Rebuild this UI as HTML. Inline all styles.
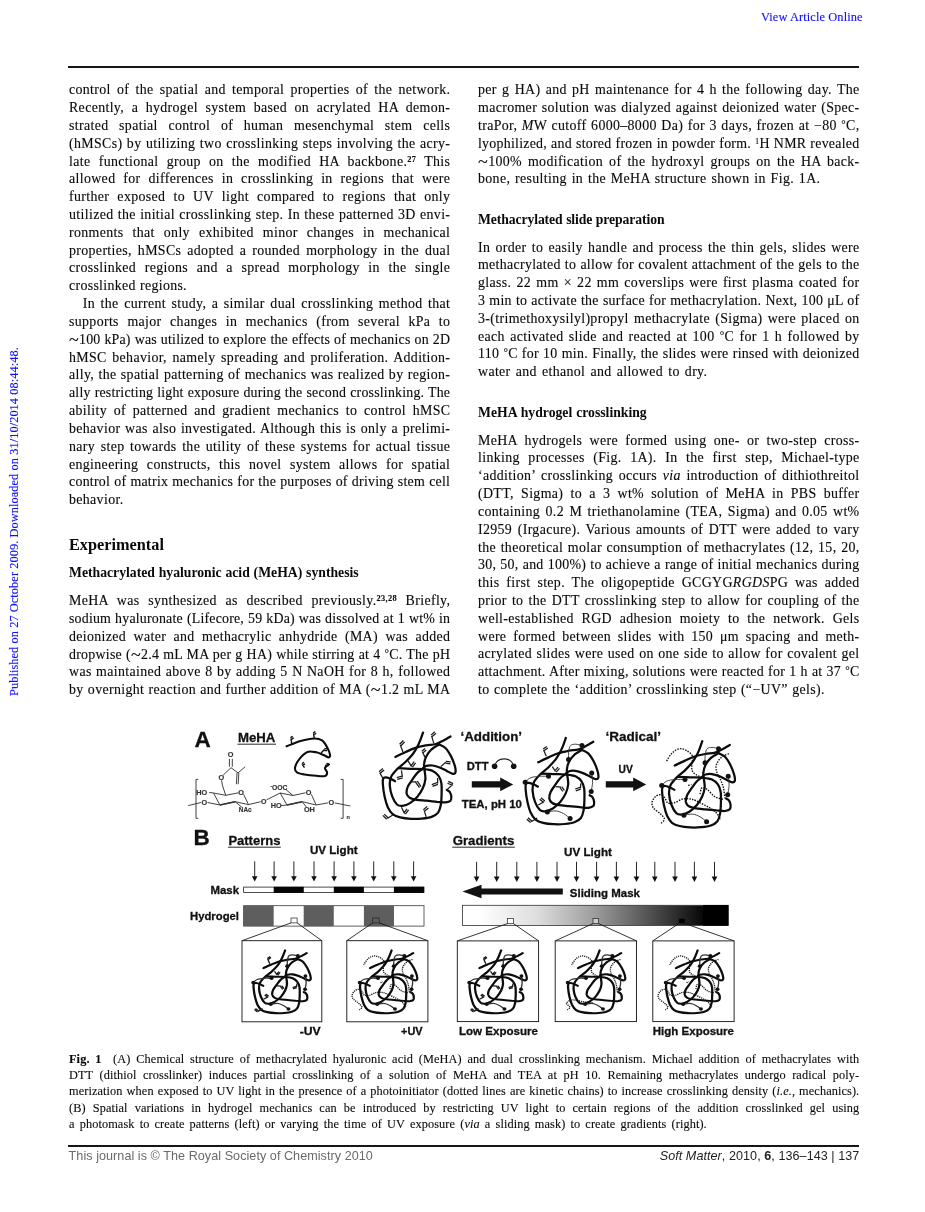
<!DOCTYPE html>
<html><head><meta charset="utf-8"><title>Soft Matter page 137</title>
<style>
html,body{margin:0;padding:0;background:#fff}
body{width:925px;height:1212px;position:relative;overflow:hidden;will-change:transform;font-family:"Liberation Serif",serif;color:#0a0a0a}
.l{position:absolute;white-space:nowrap;text-align:justify;text-align-last:justify;transform-origin:0 0;line-height:16px;height:16px;font-family:"Liberation Serif",serif}
.t{font-size:13.9px;-webkit-text-stroke:0.12px #0a0a0a}
.h1{font-size:16.3px;font-weight:bold;line-height:20px;height:20px}
.h2{font-size:13.7px;font-weight:bold}
.c{font-size:12.3px;-webkit-text-stroke:0.1px #0a0a0a}
.sp{font-size:0.6em;position:relative;top:-0.5em}.dg{font-size:0.8em;position:relative;top:-0.16em}
.sp.b{font-weight:bold}
.gap{display:inline-block;width:11.5px}
.tl{font-size:1.3em;line-height:0;position:relative;top:0.12em}
.rule{position:absolute;background:#161616;left:68.3px;width:790.9px;height:1.5px}
.vao{position:absolute;left:761px;top:10px;font-size:12.4px;color:#1010ff;-webkit-text-stroke:0.12px #1010ff;white-space:nowrap;line-height:14px;letter-spacing:0.1px}
.side{position:absolute;left:5.5px;top:695.5px;font-size:12.33px;color:#1010ff;-webkit-text-stroke:0.12px #1010ff;white-space:nowrap;line-height:16px;height:16px;transform-origin:0 0;transform:rotate(-90deg);letter-spacing:0.08px}
.fl{position:absolute;left:68.6px;top:1149.3px;font-family:"Liberation Sans",sans-serif;font-size:12.6px;color:#6a6a6a;white-space:nowrap;line-height:14px;letter-spacing:0.05px}
.fr{position:absolute;right:65.6px;top:1149.3px;font-family:"Liberation Sans",sans-serif;font-size:12.6px;color:#222;white-space:nowrap;line-height:14px;text-align:right;letter-spacing:0.05px}
svg{position:absolute;left:0;top:0}
</style></head><body>
<div class="vao">View Article Online</div>
<div class="side">Published on 27 October 2009. Downloaded on 31/10/2014 08:44:48.</div>
<div class="rule" style="top:66.2px"></div>
<div class="l t" style="left:69.0px;top:81.75px;width:381.35px;letter-spacing:0.350px">control of the spatial and temporal properties of the network.</div>
<div class="l t" style="left:69.0px;top:99.75px;width:381.35px;letter-spacing:0.350px">Recently, a hydrogel system based on acrylated HA demon-</div>
<div class="l t" style="left:69.0px;top:117.75px;width:381.35px;letter-spacing:0.350px">strated spatial control of human mesenchymal stem cells</div>
<div class="l t" style="left:69.0px;top:135.75px;width:381.35px;letter-spacing:0.350px">(hMSCs) by utilizing two crosslinking steps involving the acry-</div>
<div class="l t" style="left:69.0px;top:153.75px;width:381.35px;letter-spacing:0.350px">late functional group on the modified HA backbone.<span class="sp b">27</span> This</div>
<div class="l t" style="left:69.0px;top:170.75px;width:381.35px;letter-spacing:0.350px">allowed for differences in crosslinking in regions that were</div>
<div class="l t" style="left:69.0px;top:188.75px;width:381.35px;letter-spacing:0.350px">further exposed to UV light compared to regions that only</div>
<div class="l t" style="left:69.0px;top:206.75px;width:381.35px;letter-spacing:0.350px">utilized the initial crosslinking step. In these patterned 3D envi-</div>
<div class="l t" style="left:69.0px;top:224.75px;width:381.35px;letter-spacing:0.350px">ronments that only exhibited minor changes in mechanical</div>
<div class="l t" style="left:69.0px;top:242.75px;width:381.35px;letter-spacing:0.350px">properties, hMSCs adopted a rounded morphology in the dual</div>
<div class="l t" style="left:69.0px;top:259.75px;width:381.35px;letter-spacing:0.350px">crosslinked regions and a spread morphology in the single</div>
<div class="l t" style="left:69.0px;top:277.75px;width:117.91px;letter-spacing:0.310px">crosslinked regions.</div>
<div class="l t" style="left:82.8px;top:295.75px;width:367.55px;letter-spacing:0.350px">In the current study, a similar dual crosslinking method that</div>
<div class="l t" style="left:69.0px;top:313.75px;width:381.35px;letter-spacing:0.350px">supports major changes in mechanics (from several kPa to</div>
<div class="l t" style="left:69.0px;top:331.75px;width:381.20px;letter-spacing:0.202px"><span class="tl">~</span>100 kPa) was utilized to explore the effects of mechanics on 2D</div>
<div class="l t" style="left:69.0px;top:349.75px;width:381.35px;letter-spacing:0.350px">hMSC behavior, namely spreading and proliferation. Addition-</div>
<div class="l t" style="left:69.0px;top:366.75px;width:381.35px;letter-spacing:0.350px">ally, the spatial patterning of mechanics was realized by region-</div>
<div class="l t" style="left:69.0px;top:384.75px;width:381.20px;letter-spacing:0.202px">ally restricting light exposure during the second crosslinking. The</div>
<div class="l t" style="left:69.0px;top:402.75px;width:381.35px;letter-spacing:0.350px">ability of patterned and gradient mechanics to control hMSC</div>
<div class="l t" style="left:69.0px;top:420.75px;width:381.35px;letter-spacing:0.350px">behavior was also investigated. Although this is only a prelimi-</div>
<div class="l t" style="left:69.0px;top:438.75px;width:381.35px;letter-spacing:0.350px">nary step towards the utility of these systems for actual tissue</div>
<div class="l t" style="left:69.0px;top:456.75px;width:381.35px;letter-spacing:0.350px">engineering constructs, this novel system allows for spatial</div>
<div class="l t" style="left:69.0px;top:473.75px;width:381.26px;letter-spacing:0.261px">control of matrix mechanics for the purposes of driving stem cell</div>
<div class="l t" style="left:69.0px;top:491.75px;width:55.35px;letter-spacing:0.350px">behavior.</div>
<div class="l t" style="left:69.0px;top:592.75px;width:381.35px;letter-spacing:0.350px">MeHA was synthesized as described previously.<span class="sp b">23,28</span> Briefly,</div>
<div class="l t" style="left:69.0px;top:610.75px;width:381.20px;letter-spacing:0.201px">sodium hyaluronate (Lifecore, 59 kDa) was dissolved at 1 wt% in</div>
<div class="l t" style="left:69.0px;top:628.75px;width:381.35px;letter-spacing:0.350px">deionized water and methacrylic anhydride (MA) was added</div>
<div class="l t" style="left:69.0px;top:646.75px;width:381.26px;letter-spacing:0.262px">dropwise (<span class="tl">~</span>2.4 mL MA per g HA) while stirring at 4 <span class="dg">°</span>C. The pH</div>
<div class="l t" style="left:69.0px;top:663.75px;width:381.35px;letter-spacing:0.350px">was maintained above 8 by adding 5 N NaOH for 8 h, followed</div>
<div class="l t" style="left:69.0px;top:681.75px;width:381.35px;letter-spacing:0.350px">by overnight reaction and further addition of MA (<span class="tl">~</span>1.2 mL MA</div>
<div class="l t" style="left:478.0px;top:81.75px;width:381.55px;letter-spacing:0.350px">per g HA) and pH maintenance for 4 h the following day. The</div>
<div class="l t" style="left:478.0px;top:99.75px;width:381.55px;letter-spacing:0.350px">macromer solution was dialyzed against deionized water (Spec-</div>
<div class="l t" style="left:478.0px;top:117.75px;width:381.55px;letter-spacing:0.350px">traPor, <i>M</i>W cutoff 6000–8000 Da) for 3 days, frozen at −80 <span class="dg">°</span>C,</div>
<div class="l t" style="left:478.0px;top:135.75px;width:381.46px;letter-spacing:0.257px">lyophilized, and stored frozen in powder form. <span class="sp">1</span>H NMR revealed</div>
<div class="l t" style="left:478.0px;top:153.75px;width:381.55px;letter-spacing:0.350px"><span class="tl">~</span>100% modification of the hydroxyl groups on the HA back-</div>
<div class="l t" style="left:478.0px;top:170.75px;width:342.35px;letter-spacing:0.350px">bone, resulting in the MeHA structure shown in Fig. 1A.</div>
<div class="l t" style="left:478.0px;top:239.75px;width:381.55px;letter-spacing:0.350px">In order to easily handle and process the thin gels, slides were</div>
<div class="l t" style="left:478.0px;top:256.75px;width:381.51px;letter-spacing:0.312px">methacrylated to allow for covalent attachment of the gels to the</div>
<div class="l t" style="left:478.0px;top:274.75px;width:381.55px;letter-spacing:0.350px">glass. 22 mm × 22 mm coverslips were first plasma coated for</div>
<div class="l t" style="left:478.0px;top:292.75px;width:381.49px;letter-spacing:0.289px">3 min to activate the surface for methacrylation. Next, 100 μL of</div>
<div class="l t" style="left:478.0px;top:310.75px;width:381.55px;letter-spacing:0.350px">3-(trimethoxysilyl)propyl methacrylate (Sigma) were placed on</div>
<div class="l t" style="left:478.0px;top:328.75px;width:381.55px;letter-spacing:0.350px">each activated slide and reacted at 100 <span class="dg">°</span>C for 1 h followed by</div>
<div class="l t" style="left:478.0px;top:345.75px;width:381.51px;letter-spacing:0.313px">110 <span class="dg">°</span>C for 10 min. Finally, the slides were rinsed with deionized</div>
<div class="l t" style="left:478.0px;top:363.75px;width:229.35px;letter-spacing:0.350px">water and ethanol and allowed to dry.</div>
<div class="l t" style="left:478.0px;top:432.75px;width:381.55px;letter-spacing:0.350px">MeHA hydrogels were formed using one- or two-step cross-</div>
<div class="l t" style="left:478.0px;top:449.75px;width:381.55px;letter-spacing:0.350px">linking processes (Fig. 1A). In the first step, Michael-type</div>
<div class="l t" style="left:478.0px;top:467.75px;width:381.55px;letter-spacing:0.350px">‘addition’ crosslinking occurs <i>via</i> introduction of dithiothreitol</div>
<div class="l t" style="left:478.0px;top:485.75px;width:381.55px;letter-spacing:0.350px">(DTT, Sigma) to a 3 wt% solution of MeHA in PBS buffer</div>
<div class="l t" style="left:478.0px;top:503.75px;width:381.55px;letter-spacing:0.350px">containing 0.2 M triethanolamine (TEA, Sigma) and 0.05 wt%</div>
<div class="l t" style="left:478.0px;top:521.75px;width:381.55px;letter-spacing:0.350px">I2959 (Irgacure). Various amounts of DTT were added to vary</div>
<div class="l t" style="left:478.0px;top:539.75px;width:381.55px;letter-spacing:0.350px">the theoretical molar consumption of methacrylates (12, 15, 20,</div>
<div class="l t" style="left:478.0px;top:556.75px;width:381.49px;letter-spacing:0.294px">30, 50, and 100%) to achieve a range of initial mechanics during</div>
<div class="l t" style="left:478.0px;top:574.75px;width:381.55px;letter-spacing:0.350px">this first step. The oligopeptide GCGYG<i>RGDS</i>PG was added</div>
<div class="l t" style="left:478.0px;top:592.75px;width:381.55px;letter-spacing:0.350px">prior to the DTT crosslinking step to allow for coupling of the</div>
<div class="l t" style="left:478.0px;top:610.75px;width:381.55px;letter-spacing:0.350px">well-established RGD adhesion moiety to the network. Gels</div>
<div class="l t" style="left:478.0px;top:628.75px;width:381.55px;letter-spacing:0.350px">were formed between slides with 150 μm spacing and meth-</div>
<div class="l t" style="left:478.0px;top:645.75px;width:381.55px;letter-spacing:0.350px">acrylated slides were used on one side to allow for covalent gel</div>
<div class="l t" style="left:478.0px;top:663.75px;width:381.49px;letter-spacing:0.291px">attachment. After mixing, solutions were reacted for 1 h at 37 <span class="dg">°</span>C</div>
<div class="l t" style="left:478.0px;top:681.75px;width:346.85px;letter-spacing:0.350px">to complete the ‘addition’ crosslinking step (“−UV” gels).</div>
<div class="l h1" style="left:69.0px;top:534.75px;width:95.00px;letter-spacing:0.000px">Experimental</div>
<div class="l h2" style="left:69.0px;top:564.75px;width:289.60px;letter-spacing:0.000px">Methacrylated hyaluronic acid (MeHA) synthesis</div>
<div class="l h2" style="left:478.0px;top:211.75px;width:186.40px;letter-spacing:-0.103px">Methacrylated slide preparation</div>
<div class="l h2" style="left:478.0px;top:404.75px;width:168.70px;letter-spacing:0.000px">MeHA hydrogel crosslinking</div>
<div class="l c" style="left:69.0px;top:1051.25px;width:790.30px;letter-spacing:0.100px"><b>Fig. 1</b><span class="gap"></span>(A) Chemical structure of methacrylated hyaluronic acid (MeHA) and dual crosslinking mechanism. Michael addition of methacrylates with</div>
<div class="l c" style="left:69.0px;top:1067.25px;width:790.30px;letter-spacing:0.100px">DTT (dithiol crosslinker) induces partial crosslinking of a solution of MeHA and TEA at pH 10. Remaining methacrylates undergo radical poly-</div>
<div class="l c" style="left:69.0px;top:1083.25px;width:790.30px;letter-spacing:0.100px">merization when exposed to UV light in the presence of a photoinitiator (dotted lines are kinetic chains) to increase crosslinking density (<i>i.e.</i>, mechanics).</div>
<div class="l c" style="left:69.0px;top:1100.25px;width:790.30px;letter-spacing:0.100px">(B) Spatial variations in hydrogel mechanics can be introduced by restricting UV light to certain regions of the addition crosslinked gel using</div>
<div class="l c" style="left:69.0px;top:1116.25px;width:637.80px;letter-spacing:0.100px">a photomask to create patterns (left) or varying the time of UV exposure (<i>via</i> a sliding mask) to create gradients (right).</div>
<svg width="925" height="1212" viewBox="0 0 925 1212" font-family="'Liberation Sans',sans-serif" font-weight="bold" fill="#111" style="filter:blur(0.5px)">
<style>svg text{stroke:#111;stroke-width:0.3px}svg text.ch{stroke:#333;stroke-width:0.15px}</style>
<defs><g id="nb" fill="none" stroke="#0c0c0c" style="stroke-width:var(--sw,2.25px)" stroke-linecap="round"><path d="M395.4,756.9 C397.1,756.1 402.3,753.5 405.7,752 C409,750.5 412,749 415.4,747.9 C418.8,746.8 422.8,746 426.2,745.3 C429.6,744.7 433.1,744.9 435.9,744 C438.8,743.2 441.1,741.6 443.5,740.4 C445.9,739.1 449.4,737 450.5,736.4"/><path d="M423,732.6 C422.5,734 421,738.6 419.9,741.2 C418.9,743.8 417.7,746.1 416.5,748.2 C415.3,750.4 414.5,751.9 412.7,754.2 C410.9,756.4 408.3,759.2 405.7,761.8 C403.1,764.3 399.5,766.8 397,769.3 C394.6,771.8 392.3,774.2 391.1,776.9 C389.9,779.6 389.6,782.3 389.8,785.5 C390,788.8 391,793.2 392.2,796.4 C393.4,799.5 395.3,802.9 397,804.5 C398.7,806 400.3,806.1 402.4,805.9 C404.6,805.6 407.5,804.6 410,803.1 C412.5,801.5 415.4,798.9 417.6,796.4 C419.7,793.8 421.7,790.6 423,787.7 C424.3,784.8 425.1,781.9 425.4,779.1 C425.6,776.2 424.8,772.9 424.6,770.4 C424.4,767.9 423.8,766.3 424.1,763.9 C424.3,761.6 425,758.8 426.2,756.4 C427.5,753.9 429.5,751.3 431.6,749.3 C433.8,747.3 437.9,745.3 439.2,744.5"/><path d="M439.2,744.5 C440.3,745.1 443.7,746.3 445.7,748.2 C447.7,750.2 449.5,753.4 451.1,756.4 C452.6,759.3 454.1,763.4 454.9,766.1 C455.6,768.8 455.9,771.3 455.4,772.6 C455,773.8 453.6,773.9 452.2,773.6 C450.7,773.4 448.7,771.9 446.8,770.9 C444.8,770 442.6,768.6 440.3,767.7 C437.9,766.8 435,765.8 432.7,765.5 C430.4,765.2 427.8,765.4 426.2,765.9 C424.6,766.3 423.5,767.8 423,768.2"/><path d="M398.6,768.2 C400.7,768.3 407,768.6 411.1,768.8 C415.1,768.9 419.4,768.7 423,769.1 C426.6,769.5 430.1,769.8 432.7,770.9 C435.3,772.1 437.2,773.7 438.6,775.8 C440.1,777.9 440.9,780.3 441.4,783.4 C441.8,786.4 441.7,790.6 441.6,794.2 C441.5,797.8 441.4,801.9 440.8,805 C440.2,808.1 439.6,810.6 438.1,812.6 C436.6,814.5 434.3,815.9 431.6,816.9 C428.9,817.9 425.3,818.3 421.9,818.6 C418.5,818.9 414.7,819 411.1,818.8 C407.5,818.6 403.3,818.2 400.3,817.4 C397.2,816.7 394.8,815.9 392.7,814.2 C390.6,812.5 389.2,810.1 387.8,807.2 C386.5,804.2 385.4,800 384.6,796.4 C383.8,792.7 383.2,788.5 383,785.5 C382.7,782.6 382.6,779.9 383.2,778.5 C383.7,777.2 384.9,777.3 386.2,777.4 C387.5,777.5 389.6,778.4 391.1,779.1 C392.6,779.7 394.4,780.9 395.1,781.2"/><path d="M423.5,768.2 C422.5,769 419.4,770.8 417.6,772.6 C415.8,774.4 414.3,776.7 412.7,779.1 C411.1,781.4 408.9,784.3 407.8,786.6 C406.8,789 406.3,791.3 406.5,793.1 C406.8,794.9 407.8,796.5 409.5,797.6 C411.1,798.8 413.7,799.3 416.5,799.8 C419.3,800.3 422.8,800.4 426.2,800.7 C429.6,801 433.8,801.5 437,801.8 C440.3,802 443.4,802.6 445.7,802.4 C447.9,802.2 449.6,801.7 450.5,800.7 C451.5,799.7 451.4,797.8 451.3,796.4 C451.2,794.9 450.5,793.1 449.8,792 C449,790.9 447.3,790.2 446.8,789.9"/></g><g id="nt1" fill="none" stroke="#1a1a1a" style="stroke-width:var(--tw,1.25px)"><path d="M403,752 L400.3,745 M400.9,745.7 L404.7,741.9 M399.6,744.3 L403.4,740.5 M433.8,743.4 L431.6,735.8 M432.2,736.5 L436,733.3 M431,735.1 L434.8,731.8 M425.1,757.4 L422.4,752 M423,752.8 L426.3,750.1 M421.8,751.3 L425.1,748.6 M440.8,766.6 L445.7,762.3 M445.6,763.2 L450.4,763.8 M445.8,761.4 L450.6,761.9 M407.8,760.7 L411.6,766.6 M412.4,767.2 L415.6,762.9 M410.9,766.1 L414.1,761.7 M383,778.5 L379.7,772.6 M380.3,773.3 L384.1,770 M379.1,771.8 L382.9,768.6 M401.4,770.4 L402.4,776.9 M402.2,776 L396.8,777.6 M402.7,777.8 L397.3,779.4 M410,781.8 L416.5,781.8 M415.7,782.3 L419.5,787.7 M417.3,781.2 L421,786.6 M437.6,778 L437.6,783.4 M437.2,782.5 L431.8,784.7 M437.9,784.3 L432.5,786.4 M446.8,789.9 L452.7,784.5 M453.1,783.6 L448.2,781.4 M452.3,785.3 L447.5,783.2 M401.4,807.2 L404.6,813.6 M405.4,814.2 L408.6,809.9 M403.8,813.1 L407.1,808.8 M426.2,816.9 L424.1,810.4 M424.7,811.1 L428.5,807.9 M423.4,809.7 L427.2,806.4 M393.2,814.7 L387.3,818.5 M388,817.8 L384.2,814.1 M386.6,819.2 L382.8,815.4"/></g><g id="nt2" fill="none" stroke="#1a1a1a" style="stroke-width:var(--tw,1.25px)"><path d="M403.5,750.9 L400.8,744.5 M401.4,745.2 L405.1,742.5 M400.3,743.7 L404,741 M409.5,761.2 L412.7,766.1 M413.4,766.7 L416.7,762.9 M412,765.5 L415.2,761.7 M412.7,781.2 L418.1,781.8 M417.3,782.3 L420,786.1 M418.9,781.2 L421.6,785 M438.1,778 L437.6,782.8 M437.3,781.9 L432.4,783.6 M437.9,783.7 L433,785.4 M395.4,799.6 L401.4,796.4 M402,795.6 L398.2,792.4 M400.7,797.1 L396.9,793.8 M394.3,812.6 L388.4,816.4 M389,815.6 L385.2,812.4 M387.8,817.1 L384,813.8"/></g><g id="nd"><g fill="none" stroke="#333" style="stroke-width:var(--cw,0.9px)"><path d="M439.2,740.1 C438.1,739.9 434.6,738.8 432.7,738.8 C430.8,738.8 429,739 427.8,740.1 C426.7,741.3 426.4,743.2 426,745.5 C425.6,747.9 425.7,752.7 425.7,754.2"/><path d="M448.9,767.7 C449.1,769.2 449.9,773.8 449.8,776.9 C449.7,780 448.6,784.5 448.4,786.1"/><path d="M382.4,776.9 C383.2,776.2 385,773.6 387.3,772.6 C389.5,771.6 392.9,771.2 395.9,770.9 C399,770.7 404.1,770.9 405.7,770.9"/><path d="M404.6,806.6 C406,806.4 410.5,805.3 413.2,805.5 C415.9,805.8 418.5,807 420.8,808.2 C423.2,809.5 426.2,812.3 427.3,813.1"/></g><g fill="#111"><circle cx="439.2" cy="740.1" r="2.5"/><circle cx="425.7" cy="754.2" r="2.5"/><circle cx="448.9" cy="767.7" r="2.5"/><circle cx="448.4" cy="786.1" r="2.5"/><circle cx="405.7" cy="770.9" r="2.5"/><circle cx="382.4" cy="776.9" r="2.5"/><circle cx="404.6" cy="806.6" r="2.5"/><circle cx="427.3" cy="813.1" r="2.5"/></g></g><g id="nda" fill="none" stroke="#111" style="stroke-width:var(--dw,1.4px)" stroke-dasharray="1.5 1.2"><path d="M387.3,752.6 C388.2,751.2 390.5,746.5 392.7,744.5 C394.9,742.4 397.7,740.5 400.3,740.1 C402.8,739.8 405.7,741 407.8,742.3 C410,743.6 412.5,745.4 413.2,747.7 C414,750 412.4,753.8 412.4,756.4 C412.4,758.9 412.4,761.1 413.2,762.8 C414.1,764.5 416.1,765.7 417.6,766.6 C419,767.5 421.2,768 421.9,768.2"/><path d="M449.5,745 C448.5,745.5 445.2,746.5 443.5,747.7 C441.8,748.9 440.3,750.4 439.2,752 C438.1,753.6 437.1,755.5 436.8,757.4 C436.5,759.4 436.8,761.6 437.6,763.9 C438.3,766.3 440.3,769 441.4,771.5 C442.4,774 443.3,776 444.1,779.1 C444.8,782.1 445.4,788.1 445.7,789.9"/></g><g id="ndb" fill="none" stroke="#111" style="stroke-width:var(--dw,1.4px)" stroke-dasharray="1.5 1.2"><path d="M381.9,814.7 C382.4,814 385.3,812 385.1,810.4 C385,808.8 382.6,806.8 380.8,805 C379,803.2 375.7,801.4 374.3,799.6 C373,797.8 372.5,796 372.7,794.2 C372.9,792.4 374.1,790.1 375.4,788.8 C376.7,787.4 378.6,786.1 380.3,786.1 C381.9,786.1 383.8,787.4 385.1,788.8 C386.5,790.1 386.8,793.3 388.4,794.2 C390,795.1 392.3,794.8 394.9,794.2 C397.4,793.6 400.8,791 403.5,790.4 C406.2,789.8 408.9,790.1 411.1,790.4 C413.2,790.7 414.1,791 416.5,792 C418.8,793 422.4,794.9 425.1,796.4 C427.8,797.8 430.5,799.1 432.7,800.7 C434.9,802.2 436.7,803.9 438.1,805.5 C439.5,807.2 440.8,809.6 441.4,810.4"/><path d="M408.9,776.9 C409.5,776.7 411.6,776 412.2,775.8"/><path d="M420.8,785.5 C421,784.6 421.4,781.2 421.9,780.1 C422.4,779.1 423,778.9 424.1,779.1 C425.1,779.2 426.6,779.8 428.4,781.2 C430.2,782.7 432.9,786.3 434.9,787.7 C436.8,789.1 438.6,789.3 440.3,789.9 C441.9,790.4 443.9,790.8 444.6,790.9"/></g><g id="n2"><use href="#nb"/><use href="#nt2"/><use href="#nd"/></g><g id="n3"><use href="#nb"/><use href="#nd"/><use href="#nda"/><use href="#ndb"/></g><g id="n25"><use href="#nb"/><use href="#nd"/><use href="#nda"/><path d="M381.9,814.7 C382.4,814 385.3,812 385.1,810.4 C385,808.8 380.3,806.6 380.8,805 C381.4,803.4 384.6,800.9 388.4,800.7 C392.2,800.4 399,802.7 403.5,803.4 C408,804.1 413.4,804.7 415.4,805" fill="none" stroke="#111" style="stroke-width:var(--dw,1.4px)" stroke-dasharray="1.5 1.2"/></g><g id="da"><path d="M0,0 V16" stroke="#1a1a1a" stroke-width="0.95" fill="none"/><path d="M-2.8,14.8 L0,20.2 L2.8,14.8 Z" fill="#111"/></g></defs>
<text x="194.5" y="746.8" font-size="22.5" stroke="#111" stroke-width="0.5">A</text>
<text x="238" y="742" font-size="13.2" textLength="37.4" lengthAdjust="spacingAndGlyphs">MeHA</text><path d="M237.5,744.2 H276" stroke="#111" stroke-width="0.9"/>
<path d="M286.6,746.3 C289,745.4 296,742.3 300.6,741 C305.3,739.7 310.7,738.6 314.3,738.5 C317.8,738.4 319.9,739 322.1,740.4 C324.2,741.9 325.8,744.9 327.1,747.2 C328.4,749.6 329.8,753 330,754.6 C330.3,756.3 329.7,757.3 328.7,757.4 C327.6,757.4 325.7,755.9 323.6,755 C321.5,754.2 318.9,752.8 316.2,752.3 C313.5,751.8 310.1,751 307.5,751.9 C304.8,752.9 302.3,755.5 300.3,757.9 C298.2,760.4 295.8,764.3 295.2,766.7 C294.6,769.1 295.2,770.9 296.8,772.2 C298.3,773.4 301.3,773.9 304.5,774.5 C307.8,775.1 312.8,775.6 316.2,775.8 C319.6,776.1 323.2,776.6 325,776 C326.8,775.5 327.1,773.9 327.1,772.5 C327.1,771.2 324.7,769.4 325,768.1 C325.3,766.7 328.2,765 328.9,764.4" fill="none" stroke="#0c0c0c" stroke-width="2.1" stroke-linecap="round"/>
<path d="M291.9,744.3 L290.9,738.5 M291.4,739.3 L293.7,737.9 M290.4,737.7 L292.8,736.3 M314.3,738.5 L313.5,733.6 M313.9,734.5 L316.2,733.3 M313.1,732.8 L315.4,731.6 M321.1,753.1 L324.4,749.6 M324.4,750.5 L327.1,750.5 M324.4,748.6 L327.1,748.6 M304.5,767.7 L302.2,764.4 M302.6,765.2 L305,764 M301.8,763.5 L304.1,762.3 M325,767.7 L326.3,764.4 M326.2,765.3 L328.5,765.7 M326.5,763.4 L328.8,763.8" fill="none" stroke="#111" stroke-width="1.4"/>
<path d="M198.3,779.4 L196,779.4 L196,818.3 L198.3,818.3 M340.7,779.4 L343.1,779.4 L343.1,818.3 L340.7,818.3 M188.2,805.6 L201,802.5 M207.6,802.5 L219.9,805 M209.2,792.4 L213.5,793 L225.7,795.3 L238.4,792.8 M243.6,794.3 L248.5,804.6 L235.1,801.7 L219.9,805 L213.5,793 M248.5,804.6 L260.8,801.7 M235.1,801.7 L241.9,807.2 M225.7,795.3 L222.4,785.2 L221.6,780.3 M223.2,775.1 L231,767.7 M229.4,766.7 L229.4,758.9 M232.3,766.7 L232.3,758.9 M231,767.7 L238,772.9 L245.2,766.7 M237,772.9 L236.4,784.2 M238.8,772.9 L238.2,784.2 M266.6,799.8 L280.2,793 L292.9,795.5 L305.5,792.8 M286.1,789.7 L292.9,795.5 M311.3,794.3 L316.2,805 L302.2,801.7 L287,805 L280.2,793 M287,805 L281.2,805.6 M302.2,801.7 L306.5,807.2 M316.2,805 L327.9,802.9 M334.7,802.9 L350.3,806" fill="none" stroke="#2e2e2e" stroke-width="0.9"/>
<path d="M219.9,805 L235.1,801.7 M287,805 L302.2,801.7" fill="none" stroke="#333" stroke-width="1.5"/>
<text class="ch" x="230.6" y="757.4" font-size="7.3" text-anchor="middle" fill="#333">O</text>
<text class="ch" x="221.3" y="779.9" font-size="7.3" text-anchor="middle" fill="#333">O</text>
<text class="ch" x="201.8" y="794.7" font-size="7.3" text-anchor="middle" fill="#333">HO</text>
<text class="ch" x="204.3" y="804.5" font-size="7.3" text-anchor="middle" fill="#333">O</text>
<text class="ch" x="241.1" y="795.1" font-size="7.3" text-anchor="middle" fill="#333">O</text>
<text class="ch" x="245.2" y="811.5" font-size="6.4" text-anchor="middle" fill="#333">NAc</text>
<text class="ch" x="263.7" y="804.1" font-size="7" text-anchor="middle" fill="#333">O</text>
<text class="ch" x="278.9" y="790.4" font-size="6.8" text-anchor="middle" fill="#333"><tspan font-size="4.5" dy="-2">-</tspan><tspan dy="2">OOC</tspan></text>
<text class="ch" x="308.6" y="795.1" font-size="7.3" text-anchor="middle" fill="#333">O</text>
<text class="ch" x="276.3" y="808" font-size="7.3" text-anchor="middle" fill="#333">HO</text>
<text class="ch" x="309.4" y="811.8" font-size="7.3" text-anchor="middle" fill="#333">OH</text>
<text class="ch" x="331.4" y="805.2" font-size="7.3" text-anchor="middle" fill="#333">O</text>
<text class="ch" x="348.3" y="818.7" font-size="5.6" text-anchor="middle" fill="#333">n</text>
<use href="#nb"/><use href="#nt1"/>
<use href="#n2" x="142.8" y="5.4"/>
<use href="#n3" x="279.3" y="8.6"/>
<text x="460.5" y="741.2" font-size="13.2" textLength="61.5" lengthAdjust="spacingAndGlyphs">‘Addition’</text>
<text x="605.5" y="741.2" font-size="13.2" textLength="55.5" lengthAdjust="spacingAndGlyphs">‘Radical’</text>
<text x="466.8" y="769.8" font-size="11.4" textLength="21.7" lengthAdjust="spacingAndGlyphs">DTT</text>
<circle cx="494.6" cy="766.3" r="2.8"/><circle cx="513.7" cy="766.3" r="2.8"/><path d="M494.6,766 C497,756.5 511,756.5 513.7,766" fill="none" stroke="#222" stroke-width="1.1"/>
<text x="461.7" y="807.6" font-size="11.4" textLength="60.3" lengthAdjust="spacingAndGlyphs">TEA, pH 10</text>
<text x="618.6" y="772.5" font-size="11.4" textLength="14.2" lengthAdjust="spacingAndGlyphs">UV</text>
<path d="M471.8,781.3 H500.2 V777.6 L513.2,784.4 L500.2,791.2 V787.5 H471.8 Z"/>
<path d="M605.8,781.3 H633.2 V777.6 L646.2,784.4 L633.2,791.2 V787.5 H605.8 Z"/>
<text x="193.5" y="845" font-size="22.5" stroke="#111" stroke-width="0.5">B</text>
<text x="228.4" y="845" font-size="13.2" textLength="52" lengthAdjust="spacingAndGlyphs">Patterns</text><path d="M228,847.2 H280.8" stroke="#111" stroke-width="0.9"/>
<text x="452.7" y="845" font-size="13.2" textLength="61.6" lengthAdjust="spacingAndGlyphs">Gradients</text><path d="M452.3,847.2 H514.8" stroke="#111" stroke-width="0.9"/>
<text x="310" y="854.2" font-size="11.4" textLength="47.6" lengthAdjust="spacingAndGlyphs">UV Light</text>
<text x="564" y="856" font-size="11.4" textLength="47.9" lengthAdjust="spacingAndGlyphs">UV Light</text>
<use href="#da" x="254.7" y="861.4"/>
<use href="#da" x="274.1" y="861.4"/>
<use href="#da" x="293.9" y="861.4"/>
<use href="#da" x="314" y="861.4"/>
<use href="#da" x="334.1" y="861.4"/>
<use href="#da" x="353.9" y="861.4"/>
<use href="#da" x="373.7" y="861.4"/>
<use href="#da" x="393.8" y="861.4"/>
<use href="#da" x="413.6" y="861.4"/>
<use href="#da" x="476.6" y="861.8"/>
<use href="#da" x="496.7" y="861.8"/>
<use href="#da" x="516.8" y="861.8"/>
<use href="#da" x="536.9" y="861.8"/>
<use href="#da" x="557" y="861.8"/>
<use href="#da" x="576.5" y="861.8"/>
<use href="#da" x="596.6" y="861.8"/>
<use href="#da" x="616.4" y="861.8"/>
<use href="#da" x="636.5" y="861.8"/>
<use href="#da" x="654.8" y="861.8"/>
<use href="#da" x="675" y="861.8"/>
<use href="#da" x="694.4" y="861.8"/>
<use href="#da" x="714.5" y="861.8"/>
<text x="210.5" y="894.4" font-size="11.4" textLength="28.5" lengthAdjust="spacingAndGlyphs">Mask</text>
<rect x="243.6" y="887.1" width="180.4" height="5.5" fill="#fff" stroke="#222" stroke-width="0.8"/>
<rect x="273.7" y="886.8" width="30.07" height="6.1" fill="#050505"/>
<rect x="333.8" y="886.8" width="30.07" height="6.1" fill="#050505"/>
<rect x="393.9" y="886.8" width="30.07" height="6.1" fill="#050505"/>
<text x="190" y="920.4" font-size="11.4" textLength="49" lengthAdjust="spacingAndGlyphs">Hydrogel</text>
<rect x="243.6" y="905.7" width="180.4" height="20.4" fill="#fff" stroke="#3a3a3a" stroke-width="0.8"/>
<rect x="243.6" y="905.7" width="30.07" height="20.4" fill="#5e5e5e"/>
<rect x="303.7" y="905.7" width="30.07" height="20.4" fill="#5e5e5e"/>
<rect x="363.9" y="905.7" width="30.07" height="20.4" fill="#5e5e5e"/>
<rect x="291" y="918" width="6.1" height="4.9" fill="#fff" stroke="#222" stroke-width="0.7"/><path d="M291,922.9 L242,940.7 M297.1,922.9 L321.8,940.7" stroke="#111" stroke-width="0.85" fill="none"/><rect x="242" y="940.7" width="79.8" height="81.1" fill="#fff" stroke="#111" stroke-width="0.9"/>
<rect x="372.7" y="918" width="6.5" height="4.9" fill="#5e5e5e" stroke="#222" stroke-width="0.7"/><path d="M372.7,922.9 L346.8,940.7 M379.2,922.9 L427.9,940.7" stroke="#111" stroke-width="0.85" fill="none"/><rect x="346.8" y="940.7" width="81.1" height="81.1" fill="#fff" stroke="#111" stroke-width="0.9"/>
<text x="299.7" y="1034.6" font-size="11.4" textLength="21" lengthAdjust="spacingAndGlyphs">-UV</text>
<text x="401" y="1034.6" font-size="11.4" textLength="21.6" lengthAdjust="spacingAndGlyphs">+UV</text>
<path d="M562.8,888.4 H481.5 V884.8 L462.5,891.5 L481.5,898.2 V894.6 H562.8 Z"/>
<text x="569.8" y="897.2" font-size="11.4" textLength="70.2" lengthAdjust="spacingAndGlyphs">Sliding Mask</text>
<linearGradient id="gr" x1="0" x2="1" y1="0" y2="0"><stop offset="0" stop-color="#fff"/><stop offset="0.06" stop-color="#fff"/><stop offset="0.28" stop-color="#dedede"/><stop offset="0.5" stop-color="#9c9c9c"/><stop offset="0.72" stop-color="#4c4c4c"/><stop offset="0.9" stop-color="#0a0a0a"/><stop offset="1" stop-color="#000"/></linearGradient>
<rect x="462.5" y="905.3" width="265.7" height="20.1" fill="url(#gr)" stroke="#333" stroke-width="0.8"/>
<rect x="703" y="905" width="25.4" height="20.7" fill="#000"/>
<rect x="507.5" y="918.4" width="5.9" height="5.2" fill="#fff" stroke="#222" stroke-width="0.7"/><path d="M507.5,923.6 L457.3,940.9 M513.4,923.6 L538.6,940.9" stroke="#111" stroke-width="0.85" fill="none"/><rect x="457.3" y="940.9" width="81.3" height="80.7" fill="#fff" stroke="#111" stroke-width="0.9"/>
<rect x="593" y="918.4" width="5.5" height="5.2" fill="#ccc" stroke="#222" stroke-width="0.7"/><path d="M593,923.6 L555.2,940.9 M598.5,923.6 L636.5,940.9" stroke="#111" stroke-width="0.85" fill="none"/><rect x="555.2" y="940.9" width="81.3" height="80.7" fill="#fff" stroke="#111" stroke-width="0.9"/>
<rect x="678.8" y="918.4" width="6.2" height="5.2" fill="#000" stroke="#222" stroke-width="0.7"/><path d="M678.8,923.6 L652.8,940.9 M685,923.6 L734.1,940.9" stroke="#111" stroke-width="0.85" fill="none"/><rect x="652.8" y="940.9" width="81.3" height="80.7" fill="#fff" stroke="#111" stroke-width="0.9"/>
<text x="459" y="1034.6" font-size="11.4" textLength="79" lengthAdjust="spacingAndGlyphs">Low Exposure</text>
<text x="652.8" y="1034.6" font-size="11.4" textLength="81.2" lengthAdjust="spacingAndGlyphs">High Exposure</text>
<use href="#n2" style="--sw:2.9px;--dw:1.75px;--tw:1.7px;--cw:1.7px" transform="translate(280.4,982) scale(0.785,0.728) translate(-417,-776)"/>
<use href="#n3" style="--sw:2.9px;--dw:1.75px;--tw:1.7px;--cw:1.7px" transform="translate(386.9,982) scale(0.785,0.728) translate(-417,-776)"/>
<use href="#n2" style="--sw:2.9px;--dw:1.75px;--tw:1.7px;--cw:1.7px" transform="translate(496.4,982) scale(0.785,0.728) translate(-417,-776)"/>
<use href="#n25" style="--sw:2.9px;--dw:1.75px;--tw:1.7px;--cw:1.7px" transform="translate(594.9,982) scale(0.785,0.728) translate(-417,-776)"/>
<use href="#n3" style="--sw:2.9px;--dw:1.75px;--tw:1.7px;--cw:1.7px" transform="translate(692.9,982) scale(0.785,0.728) translate(-417,-776)"/>
</svg>
<div class="rule" style="top:1145.2px"></div>
<div class="fl">This journal is © The Royal Society of Chemistry 2010</div>
<div class="fr"><i>Soft Matter</i>, 2010, <b>6</b>, 136–143 | 137</div>
</body></html>
